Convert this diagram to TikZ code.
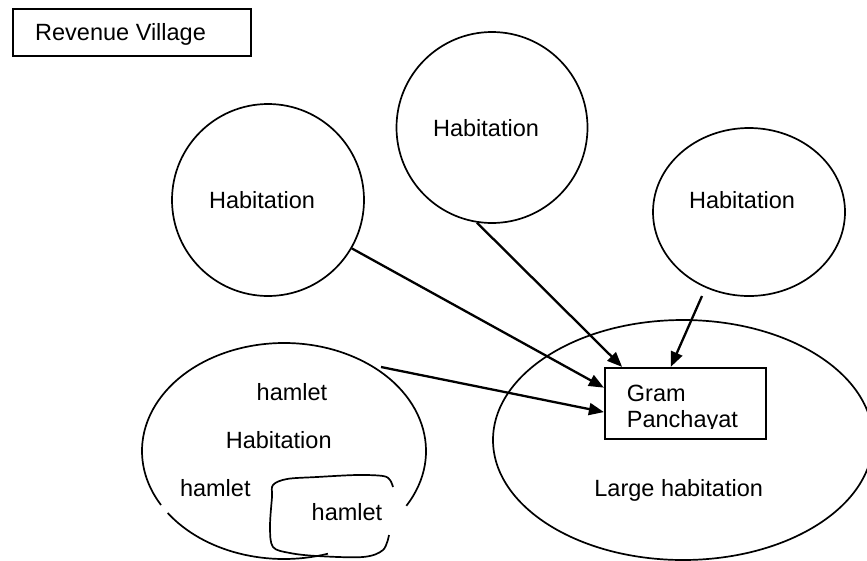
\documentclass[tikz,border=0pt]{standalone}
\usepackage{fontspec}
\setmainfont{Liberation Sans}
\usetikzlibrary{arrows.meta,shapes.geometric}
\begin{document}
\begin{tikzpicture}[x=1pt,y=-1pt,
  lbl/.style={font=\fontsize{23.5}{28}\selectfont, inner sep=0pt, anchor=base},
  shp/.style={draw, line width=1.7pt, inner sep=0pt},
  boxn/.style={draw, line width=2.2pt, inner sep=0pt, rectangle},
  outl/.style={line width=1.7pt},
  conn/.style={line width=2.3pt, -{Triangle[length=15pt,width=12pt]}}]
\useasboundingbox (0,0) rectangle (867,560);
\clip (0,0) rectangle (867,560);
\fill[white] (0,0) rectangle (867,560);

% Revenue Village box
\node[boxn, minimum width=238pt, minimum height=47pt] (rv) at (132,32.5) {};
\node[lbl, anchor=base west] (rvt) at (35,40.7) {Revenue Village};

% three habitations
\node[shp, circle, minimum size=192pt] (h1) at (268,200) {};
\node[lbl] (h1t) at (262,208) {Habitation};
\node[shp, circle, minimum size=191pt] (h2) at (492,127.5) {};
\node[lbl] (h2t) at (486,136.7) {Habitation};
\node[shp, ellipse, minimum width=192pt, minimum height=168pt] (h3) at (749,212) {};
\node[lbl] (h3t) at (742,208.3) {Habitation};

% large habitation
\node[shp, ellipse, minimum width=380pt, minimum height=240pt] (lh) at (683,440) {};
\node[lbl] (lht) at (678.7,496) {Large habitation};

% Gram Panchayat
\node[boxn, minimum width=161pt, minimum height=71pt] (gp) at (685.5,403.5) {};
\begin{scope}
\clip (605,368) rectangle (766,428);
\node[lbl, anchor=base west] (gpt1) at (626.7,401) {Gram};
\node[lbl, anchor=base west] (gpt2) at (626.7,427.3) {Panchayat};
\end{scope}

% habitation with hamlets
\draw[outl] (284,451) ++(30.5:142 and 108) arc[start angle=30.5, end angle=-210, x radius=142, y radius=108];
\draw[outl] (284,451) ++(145:142 and 108) arc[start angle=145, end angle=72, x radius=142, y radius=108];
\node[lbl] (hm1) at (292,400) {hamlet};
\node[lbl] (hbt) at (278.7,448.3) {Habitation};
\node[lbl] (hm2) at (215.3,496) {hamlet};
\node[lbl] (hm3) at (347,520) {hamlet};
\draw[outl] plot[smooth, tension=0.55] coordinates {(393,487) (390,480) (383,476) (357,475) (317,477) (287,479) (273,485) (272,497) (270,527) (273,547) (290,553) (317,556) (363,557) (383,550) (389,535)};

% connectors
\coordinate (a3s) at (381,367);
\coordinate (a4s) at (702,296);
\draw[conn] (h1.-30.6) -- (gp.169.1);
\draw[conn] (h2.-99) -- (gp.150.2);
\draw[conn] (a3s) -- (gp.186.7);
\draw[conn] (a4s) -- (gp.112.5);
\end{tikzpicture}
\end{document}
